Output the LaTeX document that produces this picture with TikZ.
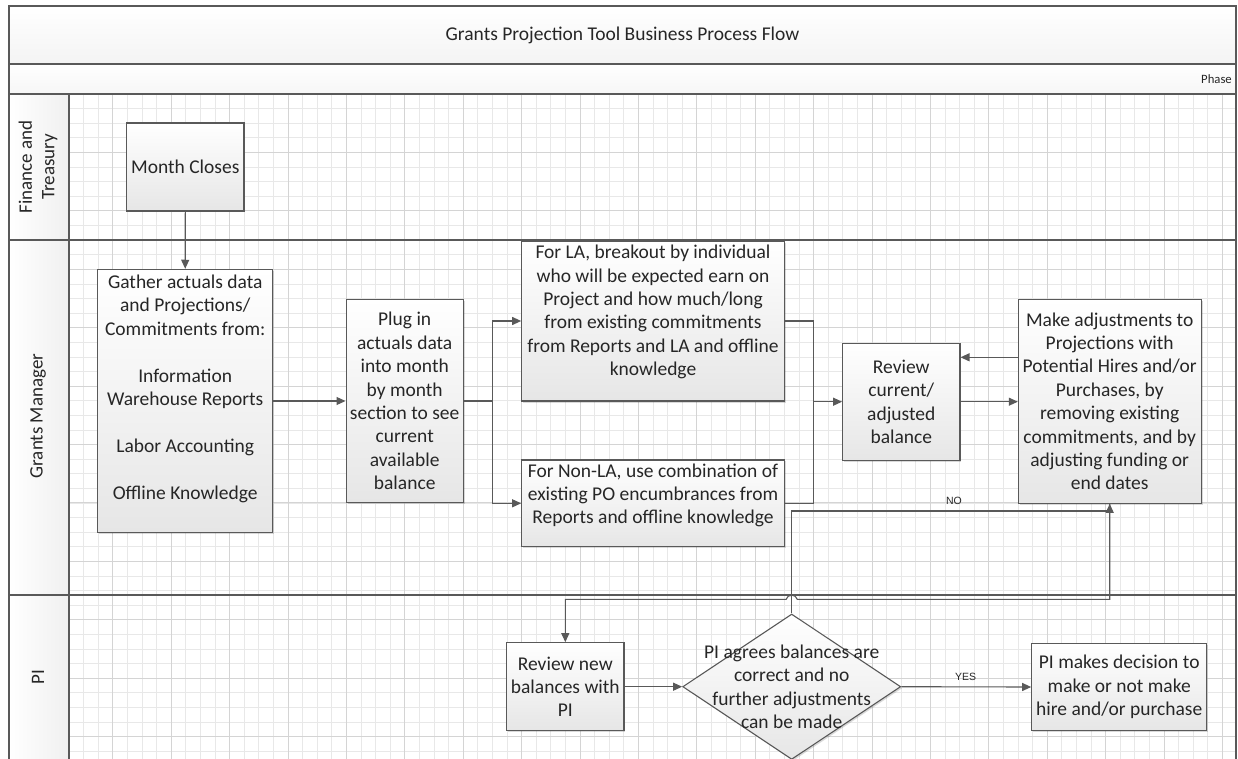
\documentclass[tikz,border=0pt]{standalone}
\usepackage{fontspec}
\setmainfont{Carlito}
\newfontfamily\arialf{Liberation Sans}
\usetikzlibrary{arrows.meta,shapes.geometric,shadows,calc}
\definecolor{linec}{RGB}{89,89,89}
\definecolor{gridminor}{RGB}{232,232,232}
\definecolor{gridmajor}{RGB}{212,212,212}
\definecolor{boxbot}{RGB}{230,230,230}
\definecolor{txt}{RGB}{38,38,38}
\begin{document}
\begin{tikzpicture}[x=1pt,y=-1pt,
 procbox/.style={draw=linec, line width=1.1pt, top color=white, bottom color=boxbot, align=center, text=txt, inner sep=2pt,
   font=\fontsize{19.5}{23.4}\selectfont,
   drop shadow={shadow xshift=1.5pt, shadow yshift=-1.5pt, fill=black, opacity=0.15}},
 conn/.style={draw=linec, line width=1.1pt},
 arr/.style={conn, -{Triangle[length=9pt,width=8pt]}},
 lane/.style={draw=linec, line width=1.1pt},
 minorg/.style={draw=gridminor, line width=0.6pt},
 majorg/.style={draw=gridmajor, line width=0.8pt},
 lanelabel/.style={rotate=90, align=center, text=txt, font=\fontsize{19}{22.6}\selectfont},
 flowlabel/.style={font=\arialf\fontsize{10.5}{12}\selectfont, text=txt, inner sep=0}
]
\useasboundingbox (0,0) rectangle (1238,759);
\clip (0,0) rectangle (1238,759);
\fill[white] (0,0) rectangle (1238,759);
% grid
\begin{scope}
\clip (69,94) rectangle (1236,759);
\foreach \i in {0,...,79} \draw[minorg] ({83.5+14.6*\i},94) -- ({83.5+14.6*\i},759);
\foreach \i in {1,...,45} \draw[minorg] (69,{94+14.6*\i}) -- (1236,{94+14.6*\i});
\foreach \i in {0,...,19} \draw[majorg] ({112.7+58.4*\i},94) -- ({112.7+58.4*\i},759);
\foreach \i in {1,...,11} \draw[majorg] (69,{94+58.4*\i}) -- (1236,{94+58.4*\i});
\end{scope}
% lane label column
\shade[left color=white, right color=gray!12] (9,94) rectangle (69,775);
% title and phase bands
\node[draw=linec, line width=1.1pt, top color=white, bottom color=gray!9, minimum width=1227, minimum height=58, inner sep=0,
  text=txt, font=\fontsize{19.5}{23.4}\selectfont] (title) at (622.5,35) {Grants Projection Tool Business Process Flow};
\node[draw=linec, line width=1.1pt, top color=white, bottom color=gray!7, minimum width=1227, minimum height=30, inner sep=0] (phaseband) at (622.5,79) {};
\node[anchor=east, text=txt, inner sep=0, font=\fontsize{12.7}{15}\selectfont] (phase) at (1232,79) {Phase};
% lanes
\draw[lane] (9,240) -- (1236,240);
\draw[lane] (9,595) -- (1236,595);
\draw[lane] (69,94) -- (69,775);
\draw[lane] (9,6) rectangle (1236,775);
\node[lanelabel] (lft) at (38,167) {Finance and\\Treasury};
\node[lanelabel] (lgm) at (38,416) {Grants Manager};
\node[lanelabel] (lpi) at (38,677) {PI};
% process nodes
\node[procbox, minimum width=117.3, minimum height=88] (mc) at (185.3,167) {Month Closes};
\node[procbox, minimum width=175, minimum height=263.4, text depth=28pt] (gather) at (185.2,401)
  {Gather actuals data\\and Projections/\\Commitments from:\\[23.4pt]Information\\Warehouse Reports\\[23.4pt]Labor Accounting\\[23.4pt]Offline Knowledge};
\node[procbox, minimum width=117.3, minimum height=203.4] (plug) at (404.7,401)
  {Plug in\\actuals data\\into month\\by month\\section to see\\current\\available\\balance};
\node[procbox, minimum width=262.6, minimum height=160, text depth=21pt] (la) at (653,321)
  {For LA, breakout by individual\\who will be expected earn on\\Project and how much/long\\from existing commitments\\from Reports and LA and offline\\knowledge};
\node[procbox, minimum width=262.6, minimum height=86.7, text depth=19pt] (nonla) at (653,503.3)
  {For Non-LA, use combination of\\existing PO encumbrances from\\Reports and offline knowledge};
\node[procbox, minimum width=117.3, minimum height=116.7] (rev) at (901.3,401.7)
  {Review\\current/\\adjusted\\balance};
\node[procbox, minimum width=182.7, minimum height=204] (make) at (1109.7,401.3)
  {Make adjustments to\\Projections with\\Potential Hires and/or\\Purchases, by\\removing existing\\commitments, and by\\adjusting funding or\\end dates};
\node[procbox, minimum width=117.3, minimum height=88] (rnb) at (565.3,686.7)
  {Review new\\balances with\\PI};
\node[procbox, shape=diamond, minimum width=218, minimum height=145.4, inner sep=0] (dec) at (791.7,686.7) {};
\node[align=center, text=txt, inner sep=0, font=\fontsize{19.5}{23.4}\selectfont] (dectext) at (791.7,686.7)
  {PI agrees balances are\\correct and no\\further adjustments\\can be made};
\node[procbox, minimum width=175, minimum height=87.4] (pid) at (1119.2,687)
  {PI makes decision to\\make or not make\\hire and/or purchase};
% connectors
\draw[arr] (mc.south) -- (gather.north);
\draw[arr] (gather.east) -- (plug.west);
\coordinate (j1) at (492.3,401);
\draw[conn] (plug.east) -- (j1);
\draw[arr] (j1) |- (la.west);
\draw[arr] (j1) |- (nonla.west);
\coordinate (j2) at (813.3,401.7);
\draw[conn] (la.east) -| (j2);
\draw[conn] (nonla.east) -| (j2);
\draw[arr] (j2) -- (rev.west);
\draw[arr] (rev.east) -- (rev.east -| make.west);
\coordinate (bk) at ($(make.west)+(0,-44)$);
\draw[arr] (bk) -- (bk -| rev.east);
% NO loop
\coordinate (n1) at (0,511);
\draw[arr] (dec.north) -- (dec.north |- n1) -- (n1 -| make.south) -- (make.south);
\node[flowlabel] (nolab) at (954,501) {NO};
% back to review with PI
\coordinate (n2) at (0,599.3);
\coordinate (hop) at (dec.north |- n2);
\draw[arr] (make.south) -- (make.south |- n2) -- ($(hop)+(5.5,0)$)
  .. controls ($(hop)+(4.5,-5.5)$) and ($(hop)+(-4.5,-5.5)$) .. ($(hop)+(-5.5,0)$)
  -- (rnb.north |- n2) -- (rnb.north);
\draw[arr] (rnb.east) -- (dec.west);
\draw[arr] (dec.east) -- (pid.west);
\node[flowlabel] (yeslab) at (965.7,677.3) {YES};
\end{tikzpicture}
\end{document}
